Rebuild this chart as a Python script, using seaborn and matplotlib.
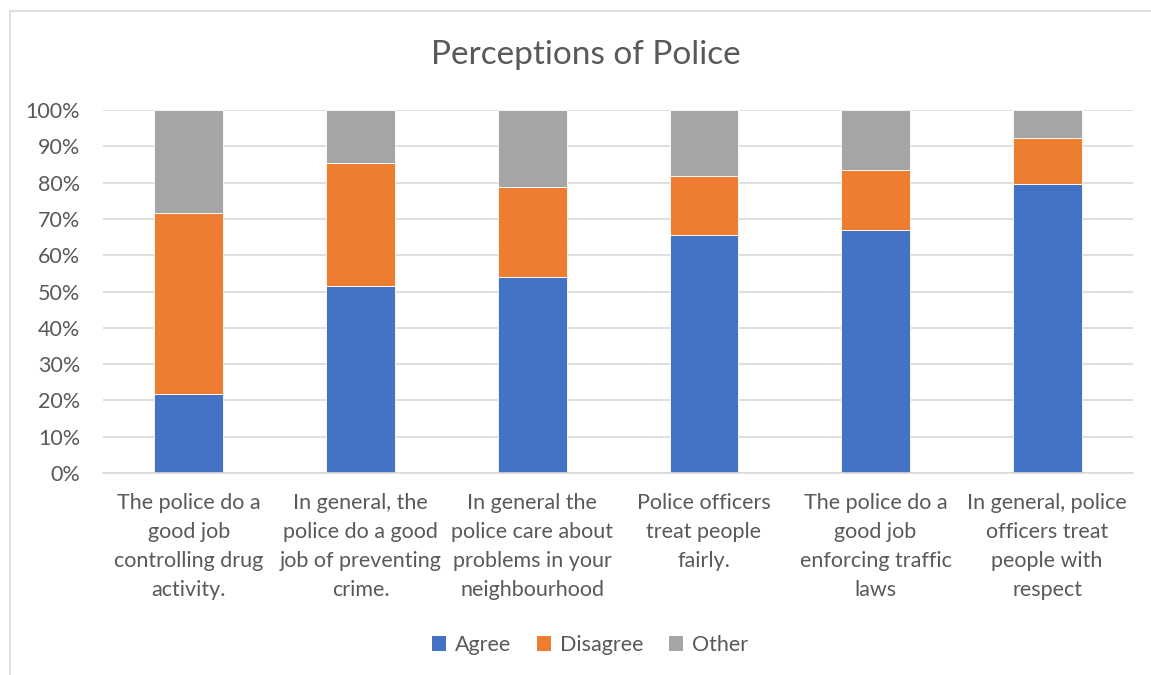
import matplotlib
matplotlib.use("Agg")
import matplotlib.pyplot as plt
import seaborn as sns
import pandas as pd
from matplotlib.patches import Rectangle, Patch
from matplotlib.ticker import PercentFormatter

categories = [
    "The police do a\ngood job\ncontrolling drug\nactivity.",
    "In general, the\npolice do a good\njob of preventing\ncrime.",
    "In general the\npolice care about\nproblems in your\nneighbourhood",
    "Police officers\ntreat people\nfairly.",
    "The police do a\ngood job\nenforcing traffic\nlaws",
    "In general, police\nofficers treat\npeople with\nrespect",
]
agree = [21.7, 51.6, 54.1, 65.5, 67.0, 79.6]
disagree = [49.8, 33.8, 24.8, 16.3, 16.5, 12.6]
other = [100 - a - d for a, d in zip(agree, disagree)]
series_names = ["Agree", "Disagree", "Other"]
colors = ["#4472C4", "#ED7D31", "#A5A5A5"]

sns.set_theme(style="white")
plt.rcParams["font.family"] = ["Lato", "DejaVu Sans"]
text_color = "#595959"

fig = plt.figure(figsize=(11.51, 6.75), dpi=100)
ax = fig.add_axes([103 / 1151, 1 - 473 / 675, (1133 - 103) / 1151, (473 - 110) / 675])

df = pd.DataFrame({"cat": categories, "Agree": agree, "Disagree": disagree, "Other": other})
bottoms = [0.0] * len(categories)
for name, col in zip(series_names, colors):
    sns.barplot(data=df, x="cat", y=name, order=categories, color=col, width=0.4,
                bottom=bottoms, ax=ax, edgecolor="white", linewidth=0.6, saturation=1)
    bottoms = [b + v for b, v in zip(bottoms, df[name])]

ax.set_ylim(0, 100)
ax.set_xlim(-0.5, len(categories) - 0.5)
ax.set_yticks(range(0, 101, 10))
ax.yaxis.set_major_formatter(PercentFormatter(decimals=0))
ax.grid(axis="y", color="#D9D9D9", linewidth=1.2)
ax.set_axisbelow(True)
for s in ["top", "right", "left"]:
    ax.spines[s].set_visible(False)
ax.spines["bottom"].set_color("#D9D9D9")
ax.spines["bottom"].set_linewidth(1.2)
ax.set_xlabel("")
ax.set_ylabel("")
ax.tick_params(axis="both", length=0, colors=text_color, labelsize=15.5)
ax.tick_params(axis="x", pad=14.5)
ax.tick_params(axis="y", pad=16.5)
for lab in ax.get_xticklabels():
    lab.set_linespacing(1.57)
    lab.set_horizontalalignment("center")

fig.text(586 / 1151, 1 - 55 / 675, "Perceptions of Police", ha="center", va="center",
         fontsize=24, color=text_color)

handles = [Patch(facecolor=c, edgecolor="none", label=n) for n, c in zip(series_names, colors)]
fig.legend(handles=handles, loc="center", bbox_to_anchor=(590 / 1151, 1 - 645 / 675), ncol=3,
           frameon=False, fontsize=15.5, labelcolor=text_color, handlelength=0.65,
           handleheight=0.65, handletextpad=0.4, columnspacing=1.2)

fig.add_artist(Rectangle((10 / 1151, -0.05), 1.2, 1 - 11 / 675 + 0.05, transform=fig.transFigure,
                         fill=False, edgecolor="#D9D9D9", linewidth=1.2))

fig.savefig("out.png", dpi=100)
